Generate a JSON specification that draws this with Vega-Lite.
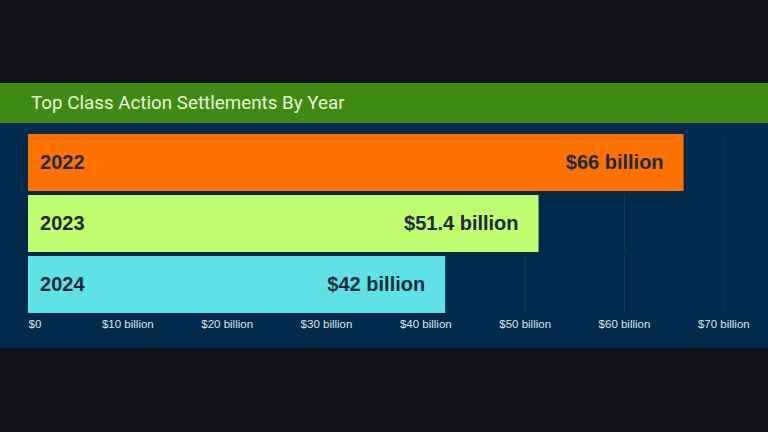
{
  "$schema": "https://vega.github.io/schema/vega-lite/v6.json",
  "background": "#111318",
  "padding": {"top": 83, "bottom": 84, "left": 0, "right": 0},
  "spacing": 0,
  "config": {"view": {"stroke": null}, "concat": {"spacing": 0}},
  "datasets": {
    "bars": [
      {"year": "2022", "value": 66, "label": "$66 billion"},
      {"year": "2023", "value": 51.4, "label": "$51.4 billion"},
      {"year": "2024", "value": 42, "label": "$42 billion"}
    ],
    "gridlines": [
      {"t": 10, "year": ["2022", "2023", "2024"]},
      {"t": 20, "year": ["2022", "2023", "2024"]},
      {"t": 30, "year": ["2022", "2023", "2024"]},
      {"t": 40, "year": ["2022", "2023", "2024"]},
      {"t": 50, "year": ["2022", "2023", "2024"]},
      {"t": 60, "year": ["2022", "2023", "2024"]},
      {"t": 70, "year": ["2022", "2023", "2024"]}
    ],
    "heading": [{"title": "Top Class Action Settlements By Year"}]
  },
  "vconcat": [
    {
      "width": 768,
      "height": 40,
      "view": {"fill": "#3f8a12", "stroke": null},
      "data": {"name": "heading"},
      "mark": {"type": "text", "align": "left", "baseline": "middle", "dx": 3, "font": "Roboto", "fontSize": 18.8, "color": "#e6f4dc"},
      "encoding": {
        "x": {"datum": 0, "type": "quantitative", "scale": {"domain": [-2.82, 74.5], "nice": false, "zero": false}, "axis": null},
        "text": {"field": "title"}
      }
    },
    {
      "width": 768,
      "height": 225,
      "view": {"fill": "#012a4c", "stroke": null},
      "data": {"name": "bars"},
      "encoding": {
        "y": {"field": "year", "type": "nominal", "sort": ["2022", "2023", "2024"], "axis": null,
              "scale": {"paddingInner": 0.0656, "paddingOuter": 0.377, "align": 0.24}}
      },
      "layer": [
        {
          "data": {"name": "gridlines"},
          "transform": [{"flatten": ["year"]}],
          "mark": {"type": "rect", "color": "#123a60", "x2Offset": 1, "y2Offset": 4},
          "encoding": {
            "x": {"field": "t", "type": "quantitative"},
            "x2": {"field": "t"}
          }
        },
        {
          "mark": {"type": "bar"},
          "encoding": {
            "x": {"field": "value", "type": "quantitative",
                  "scale": {"domain": [-2.82, 74.5], "nice": false, "zero": false},
                  "axis": {"values": [0, 10, 20, 30, 40, 50, 60, 70], "title": null, "domain": false, "ticks": false,
                           "grid": false,
                           "offset": -35, "labelPadding": 5, "labelFlush": 30,
                           "labelFont": "Liberation Sans", "labelFontSize": 11.5, "labelColor": "#dde5ee",
                           "labelExpr": "datum.value == 0 ? '$0' : '$' + datum.value + ' billion'"}},
            "x2": {"datum": 0},
            "color": {"field": "year", "type": "nominal", "legend": null,
                      "scale": {"domain": ["2022", "2023", "2024"], "range": ["#ff7200", "#c0fd70", "#5ee2e8"]}}
          }
        },
        {
          "mark": {"type": "text", "align": "left", "baseline": "middle", "dx": 12, "font": "Liberation Sans", "fontWeight": "bold", "fontSize": 20, "color": "#1c2b39"},
          "encoding": {
            "x": {"datum": 0, "type": "quantitative"},
            "text": {"field": "year"}
          }
        },
        {
          "mark": {"type": "text", "align": "right", "baseline": "middle", "dx": -20, "font": "Liberation Sans", "fontWeight": "bold", "fontSize": 20, "color": "#1c2b39"},
          "encoding": {
            "x": {"field": "value", "type": "quantitative"},
            "text": {"field": "label"}
          }
        }
      ]
    }
  ]
}
